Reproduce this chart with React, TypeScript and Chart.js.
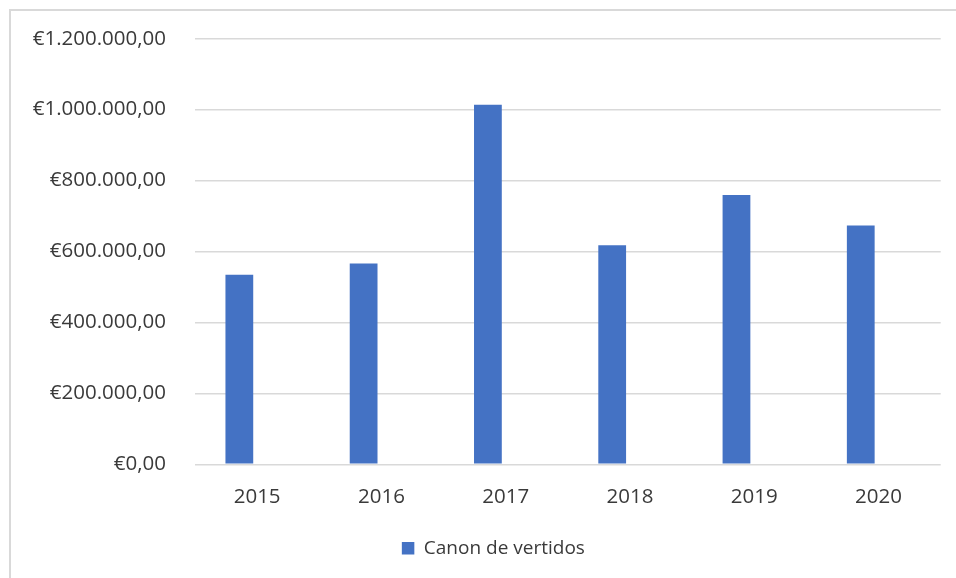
import React, { useEffect, useRef } from "react";
import { Chart, registerables } from "chart.js";

Chart.register(...registerables);

const categories = ["2015", "2016", "2017", "2018", "2019", "2020"];
const canonValues = [534500, 566000, 1013500, 617700, 759500, 673000];
const emptySeries = [null, null, null, null, null, null];
const yTickValues = [0, 200000, 400000, 600000, 800000, 1000000, 1200000];
const seriesLabel = "Canon de vertidos";

const TEXT = "#3a3a3a";
const GRID = "#d9d9d9";
const BAR = "#4472C4";
const FONT = "'Open Sans', 'Noto Sans', sans-serif";

function formatEuro(v: number): string {
  const s = Math.round(v)
    .toString()
    .replace(/\B(?=(\d{3})+(?!\d))/g, ".");
  return "€" + s + ",00";
}

const legendShift = {
  id: "legendShift",
  afterLayout(chart: any) {
    const lg = chart.legend;
    if (lg) {
      lg.left += 23;
      lg.right += 23;
    }
  },
};

export default function App() {
  const ref = useRef<HTMLCanvasElement | null>(null);

  useEffect(() => {
    if (!ref.current) return;
    const chart = new Chart(ref.current, {
      type: "bar",
      data: {
        labels: categories,
        datasets: [
          {
            label: seriesLabel,
            data: canonValues,
            backgroundColor: BAR,
            borderWidth: 0,
            categoryPercentage: 0.573,
            barPercentage: 0.78,
          },
          {
            label: "",
            data: emptySeries as any,
            backgroundColor: BAR,
            borderWidth: 0,
            categoryPercentage: 0.573,
            barPercentage: 0.78,
          },
        ],
      },
      plugins: [legendShift],
      options: {
        animation: false,
        responsive: false,
        devicePixelRatio: 1,
        events: [],
        layout: {
          padding: { left: 0, right: 47.3, top: 38.7, bottom: 10.2 },
        },
        plugins: {
          tooltip: { enabled: false },
          title: { display: false },
          legend: {
            display: true,
            position: "bottom",
            labels: {
              filter: (item: any) => item.datasetIndex === 0,
              boxWidth: 12.5,
              boxHeight: 12.5,
              padding: 10,
              color: TEXT,
              font: { family: FONT, size: 19 },
            },
          },
        },
        scales: {
          x: {
            grid: { display: false },
            border: { display: false },
            ticks: {
              color: TEXT,
              font: { family: FONT, size: 20.5 },
              padding: 13,
              maxRotation: 0,
            },
            afterFit: (scale: any) => {
              scale.height = 64.5;
            },
          },
          y: {
            min: 0,
            max: 1200000,
            grid: { color: GRID, lineWidth: 1.6, drawTicks: false },
            border: { display: false },
            afterBuildTicks: (scale: any) => {
              scale.ticks = yTickValues.map((v) => ({ value: v }));
            },
            ticks: {
              color: TEXT,
              font: { family: FONT, size: 20.5 },
              padding: 29,
              callback: (v: any) => formatEuro(Number(v)),
            },
            afterFit: (scale: any) => {
              scale.width = 195;
              scale.paddingTop = 0;
              scale.paddingBottom = 0;
            },
          },
        },
      },
    });
    return () => chart.destroy();
  }, []);

  return (
    <div
      style={{
        position: "fixed",
        left: 0,
        top: 0,
        width: 956,
        height: 578,
        overflow: "hidden",
        background: "#ffffff",
      }}
    >
      <div
        style={{
          position: "absolute",
          left: 9,
          top: 9,
          width: 1200,
          height: 1200,
          border: "2px solid #d9d9d9",
          boxSizing: "border-box",
        }}
      />
      <canvas
        ref={ref}
        width={988}
        height={578}
        style={{ position: "absolute", left: 0, top: 0, width: 988, height: 578 }}
      />
    </div>
  );
}
